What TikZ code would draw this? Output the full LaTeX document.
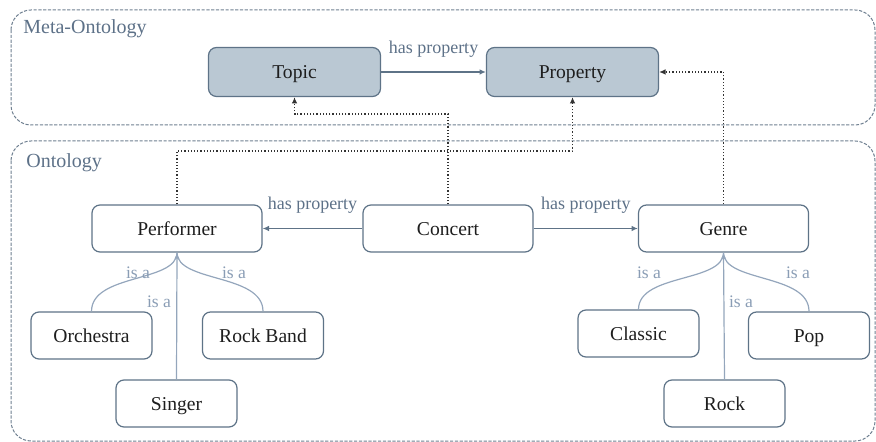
\documentclass[tikz,border=0pt]{standalone}
\usepackage{fontspec}
\setmainfont{Liberation Serif}
\usetikzlibrary{arrows.meta}
\definecolor{framecol}{HTML}{6E7F90}
\definecolor{edgecol}{HTML}{5E7387}
\definecolor{isacol}{HTML}{94A6BC}
\definecolor{metafill}{HTML}{BAC8D3}
\definecolor{labelcol}{HTML}{5D7188}
\definecolor{isatext}{HTML}{8A9DB5}
\definecolor{textcol}{HTML}{1E1E1E}
\tikzset{
  frame/.style={draw=framecol, dash pattern=on 1.6pt off 0.8pt, line width=0.5pt, rounded corners=10pt},
  framelabel/.style={anchor=west, text=labelcol, font=\fontsize{10}{12}\selectfont, inner sep=0pt},
  concept/.style={draw=edgecol, line width=0.6pt, rounded corners=4pt, fill=white,
    text=textcol, font=\fontsize{9.8}{12}\selectfont, inner sep=0pt,
    text height=8pt, text depth=1.2pt,
    minimum width=85pt, minimum height=23.5pt},
  metaconcept/.style={concept, fill=metafill, minimum width=86pt, minimum height=24.5pt},
  leaf/.style={concept, minimum width=60.5pt},
  hasprop/.style={draw=edgecol, line width=0.6pt, -{Latex[length=3.2pt,width=2.8pt]}},
  proplabel/.style={text=labelcol, font=\fontsize{9}{11}\selectfont, inner sep=0pt},
  isaedge/.style={draw=isacol, line width=0.6pt},
  isalabel/.style={text=isatext, font=\fontsize{8.8}{10}\selectfont, inner sep=0pt},
  metalink/.style={draw=black!80, densely dotted, line width=0.6pt, -{Latex[length=3.2pt,width=2.8pt]}}
}
\begin{document}
\begin{tikzpicture}[x=0.5pt,y=-0.5pt]
\useasboundingbox (0,0) rectangle (876,442);

% layer frames
\draw[frame] (11,10) rectangle (875,125);
\draw[frame] (11,141) rectangle (875,441);
\node[framelabel] (metatitle) at (23,29) {Meta-Ontology};
\node[framelabel] (ontotitle) at (26,163) {Ontology};

% meta-ontology concepts
\node[metaconcept] (topic) at (294.5,72) {Topic};
\node[metaconcept] (property) at (572.5,72) {Property};

% ontology concepts
\node[concept] (performer) at (177,228.5) {Performer};
\node[concept] (concert) at (448,228.5) {Concert};
\node[concept] (genre) at (723.5,228.5) {Genre};
\node[leaf] (orchestra) at (91.5,335.5) {Orchestra};
\node[leaf] (rockband) at (263,335.5) {Rock Band};
\node[leaf] (singer) at (176.5,403.5) {Singer};
\node[leaf] (classic) at (638.5,333.5) {Classic};
\node[leaf] (pop) at (809,335.5) {Pop};
\node[leaf] (rock) at (724.5,403.5) {Rock};

% has-property relations
\draw[hasprop] (topic) -- (property) node[midway, proplabel, above=7pt] (lbltp) {has property};
\draw[hasprop] (concert) -- (performer) node[midway, proplabel, above=7.5pt] (lblcp) {has property};
\draw[hasprop] (concert) -- (genre) node[midway, proplabel, above=7.5pt] (lblcg) {has property};

% instance-of links to the meta level
\coordinate (bendtopic) at (294.5,114);
\coordinate (bendprop) at (572.5,151);
\draw[metalink] (concert.north) |- (bendtopic) -- (topic.south);
\draw[metalink] (performer.north) |- (bendprop) -- (property.south);
\draw[metalink] (genre.north) |- (property.east);

% is-a hierarchy: performers
\draw[isaedge] (orchestra.north) .. controls +(0,-38) and +(0,30) .. (performer.south);
\draw[isaedge] (rockband.north) .. controls +(0,-38) and +(0,30) .. (performer.south);
\draw[isaedge, -{Latex[length=3pt,width=2.6pt]}] (singer.north) -- (performer.south);
\node[isalabel] (isa1) at (138,273) {is a};
\node[isalabel] (isa2) at (234,273) {is a};
\node[isalabel] (isa3) at (159,302) {is a};

% is-a hierarchy: genres
\draw[isaedge] (classic.north) .. controls +(0,-36) and +(0,30) .. (genre.south);
\draw[isaedge] (pop.north) .. controls +(0,-38) and +(0,30) .. (genre.south);
\draw[isaedge, -{Latex[length=3pt,width=2.6pt]}] (rock.north) -- (genre.south);
\node[isalabel] (isa4) at (649,273) {is a};
\node[isalabel] (isa5) at (798,273) {is a};
\node[isalabel] (isa6) at (741,302) {is a};
\end{tikzpicture}
\end{document}
